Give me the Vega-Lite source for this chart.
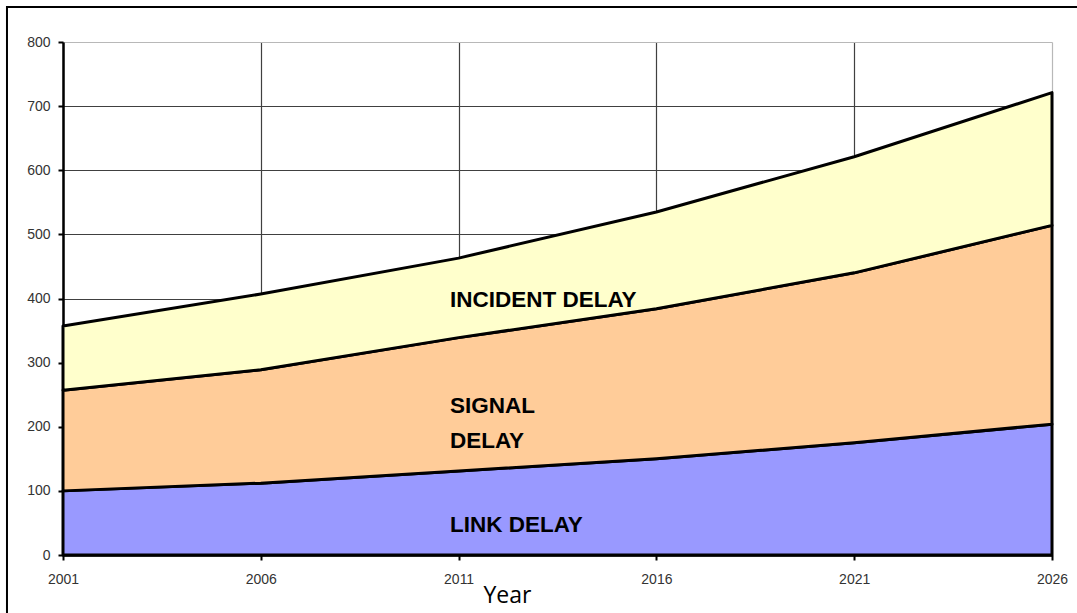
{
  "$schema": "https://vega.github.io/schema/vega-lite/v6.json",
  "width": 989,
  "height": 513,
  "autosize": "none",
  "padding": {"left": 63, "top": 42, "right": 25, "bottom": 58},
  "background": "white",
  "config": {"view": {"stroke": null}},
  "datasets": {
    "series": [
      {"year": 2001, "layer": "LINK DELAY", "order": 1, "value": 100},
      {"year": 2006, "layer": "LINK DELAY", "order": 1, "value": 112},
      {"year": 2011, "layer": "LINK DELAY", "order": 1, "value": 131},
      {"year": 2016, "layer": "LINK DELAY", "order": 1, "value": 150},
      {"year": 2021, "layer": "LINK DELAY", "order": 1, "value": 175},
      {"year": 2026, "layer": "LINK DELAY", "order": 1, "value": 204},
      {"year": 2001, "layer": "SIGNAL DELAY", "order": 2, "value": 157},
      {"year": 2006, "layer": "SIGNAL DELAY", "order": 2, "value": 177},
      {"year": 2011, "layer": "SIGNAL DELAY", "order": 2, "value": 208},
      {"year": 2016, "layer": "SIGNAL DELAY", "order": 2, "value": 234},
      {"year": 2021, "layer": "SIGNAL DELAY", "order": 2, "value": 265},
      {"year": 2026, "layer": "SIGNAL DELAY", "order": 2, "value": 310},
      {"year": 2001, "layer": "INCIDENT DELAY", "order": 3, "value": 100},
      {"year": 2006, "layer": "INCIDENT DELAY", "order": 3, "value": 118},
      {"year": 2011, "layer": "INCIDENT DELAY", "order": 3, "value": 124},
      {"year": 2016, "layer": "INCIDENT DELAY", "order": 3, "value": 151},
      {"year": 2021, "layer": "INCIDENT DELAY", "order": 3, "value": 181},
      {"year": 2026, "layer": "INCIDENT DELAY", "order": 3, "value": 207}
    ],
    "labels": [
      {"year": 2010.78, "value": 387, "text": "INCIDENT DELAY"},
      {"year": 2010.78, "value": 221, "text": "SIGNAL"},
      {"year": 2010.78, "value": 167, "text": "DELAY"},
      {"year": 2010.78, "value": 36, "text": "LINK DELAY"}
    ],
    "frame": [
      {"year": 1999.584, "x2": 2035, "value": 854.6, "y2": -300}
    ]
  },
  "layer": [
    {
      "data": {"name": "series"},
      "mark": {"type": "area", "stroke": "black", "strokeWidth": 3, "strokeJoin": "round"},
      "encoding": {
        "x": {
          "field": "year",
          "type": "quantitative",
          "title": "Year",
          "scale": {"domain": [2001, 2026], "nice": false, "zero": false},
          "axis": {
            "values": [2001, 2006, 2011, 2016, 2021, 2026],
            "format": "d",
            "titleFont": "Open Sans",
            "titleFontSize": 23,
            "titleFontWeight": "normal",
            "titleColor": "black",
            "titleX": 444,
            "titleY": 47,
            "titleAlign": "center",
            "titleBaseline": "alphabetic",
            "labelFont": "Liberation Sans",
            "labelFontSize": 14,
            "labelColor": "#333333",
            "labelPadding": 12,
            "labelBaseline": "top",
            "labelFlush": false,
            "labelOverlap": false,
            "tickSize": 5,
            "tickColor": "black",
            "tickWidth": 2,
            "domainColor": "black",
            "domainWidth": 2.5,
            "grid": true,
            "gridColor": {"condition": {"test": "datum.value == 2026", "value": "#b8b8b8"}, "value": "#404040"},
            "gridWidth": 1.2
          }
        },
        "y": {
          "field": "value",
          "type": "quantitative",
          "stack": "zero",
          "title": null,
          "scale": {"domain": [0, 800], "nice": false},
          "axis": {
            "values": [0, 100, 200, 300, 400, 500, 600, 700, 800],
            "labelFont": "Liberation Sans",
            "labelFontSize": 14,
            "labelColor": "#333333",
            "labelPadding": 8,
            "labelFlush": false,
            "labelOverlap": false,
            "tickSize": 5,
            "tickColor": "black",
            "tickWidth": 2,
            "domainColor": "black",
            "domainWidth": 2.5,
            "grid": true,
            "gridColor": {"condition": {"test": "datum.value == 800", "value": "#b8b8b8"}, "value": "#404040"},
            "gridWidth": 1.2
          }
        },
        "color": {
          "field": "layer",
          "type": "nominal",
          "scale": {"domain": ["LINK DELAY", "SIGNAL DELAY", "INCIDENT DELAY"], "range": ["#9999FF", "#FFCC99", "#FFFFCC"]},
          "legend": null
        },
        "order": {"field": "order", "type": "quantitative"}
      }
    },
    {
      "data": {"name": "labels"},
      "mark": {"type": "text", "align": "left", "baseline": "alphabetic", "font": "Liberation Sans", "fontSize": 22.5, "fontWeight": "bold", "color": "black"},
      "encoding": {
        "x": {"field": "year", "type": "quantitative"},
        "y": {"field": "value", "type": "quantitative"},
        "text": {"field": "text"}
      }
    },
    {
      "data": {"name": "frame"},
      "mark": {"type": "rect", "fill": null, "stroke": "black", "strokeWidth": 2, "clip": false},
      "encoding": {
        "x": {"field": "year", "type": "quantitative"},
        "x2": {"field": "x2"},
        "y": {"field": "value", "type": "quantitative"},
        "y2": {"field": "y2"}
      }
    }
  ]
}
